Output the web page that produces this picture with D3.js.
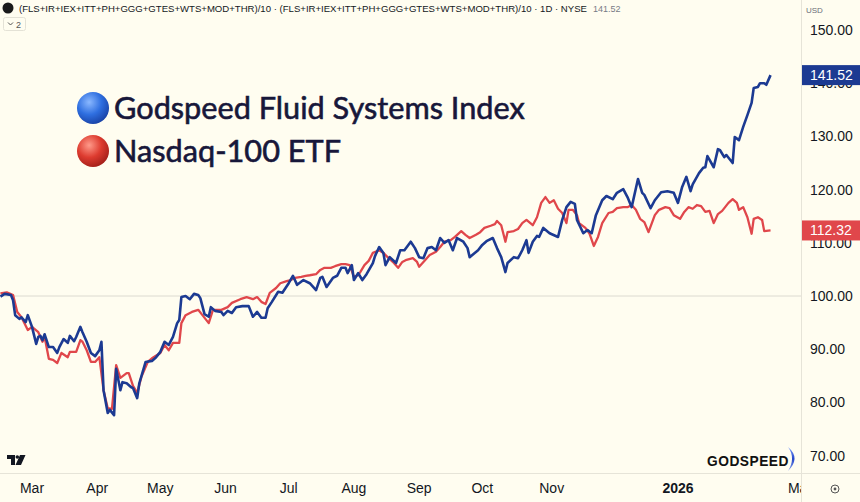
<!DOCTYPE html>
<html>
<head>
<meta charset="utf-8">
<script src="https://cdn.jsdelivr.net/npm/d3@7"></script>
<style>
body { margin: 0; background: #fffdf0; }
svg { display: block; }
</style>
</head>
<body>
<svg id="chart"></svg>
<script>
// Godspeed Fluid Systems Index (rebased to 100)
var fluidIndex = [
	["2025-02-14",99.9],["2025-02-16",100.4],["2025-02-19",100.2],["2025-02-20",99.2],["2025-02-21",96.4],["2025-02-23",95.7],
	["2025-02-24",96.0],["2025-02-26",95.1],["2025-02-27",96.4],["2025-03-01",94.2],["2025-03-03",91.0],["2025-03-04",92.3],
	["2025-03-05",92.5],["2025-03-06",91.7],["2025-03-07",92.8],["2025-03-09",90.4],["2025-03-11",90.4],["2025-03-13",89.3],
	["2025-03-14",90.4],["2025-03-16",91.9],["2025-03-18",91.2],["2025-03-19",92.5],["2025-03-21",91.5],["2025-03-22",92.3],
	["2025-03-24",94.2],["2025-03-25",93.2],["2025-03-27",91.4],["2025-03-29",89.3],["2025-03-31",88.7],["2025-04-02",89.8],
	["2025-04-03",91.4],["2025-04-04",82.3],["2025-04-06",78.0],["2025-04-07",78.6],["2025-04-09",77.6],["2025-04-10",86.3],
	["2025-04-12",82.3],["2025-04-13",83.8],["2025-04-15",83.6],["2025-04-17",82.9],["2025-04-18",82.7],["2025-04-20",80.8],
	["2025-04-21",83.6],["2025-04-24",87.6],["2025-04-27",87.8],["2025-04-29",88.5],["2025-05-01",89.5],["2025-05-03",91.4],
	["2025-05-05",90.8],["2025-05-07",92.3],["2025-05-09",94.9],["2025-05-10",95.5],["2025-05-11",99.8],["2025-05-13",100.0],
	["2025-05-15",99.4],["2025-05-17",100.4],["2025-05-19",100.2],["2025-05-20",99.6],["2025-05-22",96.6],["2025-05-24",96.1],
	["2025-05-25",97.9],["2025-05-27",97.2],["2025-05-30",97.0],["2025-05-31",96.4],["2025-06-02",97.2],["2025-06-04",96.8],
	["2025-06-06",97.9],["2025-06-09",98.1],["2025-06-12",98.1],["2025-06-14",96.1],["2025-06-16",97.0],["2025-06-18",95.9],
	["2025-06-20",95.9],["2025-06-21",97.7],["2025-06-23",98.9],["2025-06-26",100.8],["2025-06-28",100.6],["2025-07-01",102.4],
	["2025-07-03",103.8],["2025-07-05",102.1],["2025-07-08",103.0],["2025-07-11",102.4],["2025-07-14",101.1],["2025-07-16",103.4],
	["2025-07-17",103.6],["2025-07-19",101.7],["2025-07-22",103.4],["2025-07-24",103.8],["2025-07-26",105.3],["2025-07-28",105.3],
	["2025-07-29",104.3],["2025-07-31",105.8],["2025-08-01",103.0],["2025-08-03",104.3],["2025-08-05",103.0],["2025-08-07",104.1],
	["2025-08-10",106.2],["2025-08-11",107.5],["2025-08-13",109.2],["2025-08-15",108.1],["2025-08-16",105.8],["2025-08-18",107.3],
	["2025-08-21",106.2],["2025-08-23",108.6],["2025-08-25",108.6],["2025-08-28",110.2],["2025-08-30",109.0],["2025-09-01",107.3],
	["2025-09-03",107.1],["2025-09-05",109.0],["2025-09-07",109.2],["2025-09-09",108.6],["2025-09-11",110.9],["2025-09-13",110.0],
	["2025-09-15",110.5],["2025-09-17",108.6],["2025-09-19",110.9],["2025-09-22",110.2],["2025-09-24",109.0],["2025-09-25",107.3],
	["2025-09-29",108.6],["2025-10-01",109.6],["2025-10-03",110.3],["2025-10-06",110.9],["2025-10-08",109.0],["2025-10-10",107.3],
	["2025-10-12",104.5],["2025-10-13",106.2],["2025-10-16",107.3],["2025-10-18",107.1],["2025-10-20",108.6],["2025-10-22",110.5],
	["2025-10-23",108.1],["2025-10-25",110.2],["2025-10-27",111.3],["2025-10-28",111.1],["2025-10-30",112.8],["2025-11-02",111.8],
	["2025-11-06",111.1],["2025-11-08",114.3],["2025-11-10",116.7],["2025-11-12",117.7],["2025-11-14",117.3],["2025-11-15",114.3],
	["2025-11-18",111.8],["2025-11-20",112.4],["2025-11-22",111.8],["2025-11-24",115.2],["2025-11-27",118.0],["2025-11-29",118.8],
	["2025-12-02",118.2],["2025-12-04",119.4],["2025-12-07",120.1],["2025-12-09",118.6],["2025-12-11",116.7],["2025-12-14",122.0],
	["2025-12-16",119.4],["2025-12-17",119.0],["2025-12-20",116.5],["2025-12-22",118.0],["2025-12-25",119.5],["2025-12-28",119.7],
	["2025-12-31",119.4],["2026-01-02",117.5],["2026-01-04",120.5],["2026-01-06",122.4],["2026-01-08",119.7],["2026-01-09",121.0],
	["2026-01-12",123.1],["2026-01-14",124.1],["2026-01-15",124.2],["2026-01-16",126.3],["2026-01-19",124.2],["2026-01-21",127.6],
	["2026-01-22",127.4],["2026-01-24",126.1],["2026-01-25",126.5],["2026-01-28",125.0],["2026-01-29",129.9],["2026-01-31",129.3],
	["2026-02-02",131.8],["2026-02-04",134.0],["2026-02-06",136.3],["2026-02-07",139.1],["2026-02-09",139.3],["2026-02-10",140.0],
	["2026-02-12",140.0],["2026-02-13",139.7],["2026-02-15",141.52]
]

// Nasdaq-100 ETF (rebased to 100)
var nasdaqEtf = [
	["2025-02-14",100.5],["2025-02-17",100.7],["2025-02-20",100.2],["2025-02-22",97.0],["2025-02-24",96.0],["2025-02-27",93.6],
	["2025-03-01",94.2],["2025-03-04",93.2],["2025-03-06",91.4],["2025-03-07",92.3],["2025-03-09",88.2],["2025-03-11",88.0],
	["2025-03-13",87.4],["2025-03-15",89.3],["2025-03-18",88.5],["2025-03-19",89.5],["2025-03-22",89.5],["2025-03-24",91.7],
	["2025-03-25",91.4],["2025-03-27",89.8],["2025-03-29",87.6],["2025-03-31",87.6],["2025-04-02",88.5],["2025-04-04",82.3],
	["2025-04-06",78.9],["2025-04-08",78.8],["2025-04-10",87.0],["2025-04-12",84.6],["2025-04-15",85.5],["2025-04-16",85.5],
	["2025-04-18",83.1],["2025-04-20",81.8],["2025-04-22",84.8],["2025-04-25",87.6],["2025-04-27",88.3],["2025-05-01",89.3],
	["2025-05-03",90.8],["2025-05-05",89.8],["2025-05-07",91.2],["2025-05-10",91.2],["2025-05-11",94.9],["2025-05-13",96.4],
	["2025-05-16",97.0],["2025-05-19",97.4],["2025-05-21",96.4],["2025-05-24",94.9],["2025-05-26",97.4],["2025-05-30",97.4],
	["2025-06-02",97.9],["2025-06-04",98.7],["2025-06-08",99.4],["2025-06-11",99.8],["2025-06-14",99.4],["2025-06-16",99.8],
	["2025-06-18",98.9],["2025-06-20",98.5],["2025-06-22",100.6],["2025-06-25",101.5],["2025-06-27",102.4],["2025-06-30",102.8],
	["2025-07-02",103.0],["2025-07-04",103.4],["2025-07-07",103.6],["2025-07-09",103.8],["2025-07-11",103.9],["2025-07-14",104.1],
	["2025-07-16",104.9],["2025-07-18",105.3],["2025-07-21",105.3],["2025-07-23",105.6],["2025-07-26",106.0],["2025-07-28",106.0],
	["2025-07-30",105.8],["2025-08-01",103.6],["2025-08-03",103.9],["2025-08-04",104.5],["2025-08-06",105.8],["2025-08-08",106.6],
	["2025-08-10",108.1],["2025-08-13",108.6],["2025-08-15",108.1],["2025-08-17",107.3],["2025-08-20",106.2],["2025-08-22",105.3],
	["2025-08-24",106.4],["2025-08-26",106.8],["2025-08-29",107.1],["2025-08-31",106.4],["2025-09-01",105.5],["2025-09-04",106.8],
	["2025-09-06",107.7],["2025-09-09",108.3],["2025-09-11",109.2],["2025-09-13",110.2],["2025-09-16",110.5],["2025-09-18",111.1],
	["2025-09-21",112.2],["2025-09-23",111.5],["2025-09-25",110.9],["2025-09-28",111.5],["2025-09-30",112.0],["2025-10-02",112.8],
	["2025-10-05",113.2],["2025-10-07",113.5],["2025-10-08",114.1],["2025-10-10",113.3],["2025-10-12",110.2],["2025-10-13",112.0],
	["2025-10-16",112.2],["2025-10-18",112.6],["2025-10-20",113.7],["2025-10-22",114.3],["2025-10-25",113.3],["2025-10-27",114.8],
	["2025-10-29",117.5],["2025-10-31",118.6],["2025-11-02",117.5],["2025-11-04",118.0],["2025-11-06",116.4],["2025-11-08",115.6],
	["2025-11-10",113.7],["2025-11-11",116.2],["2025-11-13",116.2],["2025-11-15",115.2],["2025-11-16",113.7],["2025-11-19",112.8],
	["2025-11-21",111.7],["2025-11-23",109.4],["2025-11-25",111.1],["2025-11-27",113.7],["2025-11-30",115.6],["2025-12-02",115.8],
	["2025-12-04",116.5],["2025-12-07",116.7],["2025-12-09",116.7],["2025-12-11",117.1],["2025-12-13",116.2],["2025-12-15",114.5],
	["2025-12-17",113.9],["2025-12-19",112.0],["2025-12-22",115.2],["2025-12-24",116.2],["2025-12-27",116.7],["2025-12-29",116.5],
	["2025-12-31",115.2],["2026-01-03",114.5],["2026-01-05",115.8],["2026-01-07",116.7],["2026-01-09",116.4],["2026-01-11",117.1],
	["2026-01-13",116.9],["2026-01-15",115.8],["2026-01-17",116.0],["2026-01-19",113.7],["2026-01-21",115.4],["2026-01-23",116.0],
	["2026-01-26",117.5],["2026-01-28",118.2],["2026-01-30",117.5],["2026-01-31",116.2],["2026-02-02",116.7],["2026-02-04",114.8],
	["2026-02-06",111.7],["2026-02-07",114.5],["2026-02-09",114.8],["2026-02-11",114.3],["2026-02-12",112.2],["2026-02-15",112.32]
]

var monthTicks = ["2025-03-01","2025-04-01","2025-05-01","2025-06-01","2025-07-01","2025-08-01","2025-09-01","2025-10-01","2025-11-03","2026-01-02","2026-03-01"]
var monthLabels = ["Mar","Apr","May","Jun","Jul","Aug","Sep","Oct","Nov","2026","Mar"]
var priceTicks = [70, 80, 90, 100, 110, 120, 130, 140, 150]
var seriesNames = ["Godspeed Fluid Systems Index", "Nasdaq-100 ETF"]
var lastValues = [141.52, 112.32]
var headerText = "(FLS+IR+IEX+ITT+PH+GGG+GTES+WTS+MOD+THR)/10 · (FLS+IR+IEX+ITT+PH+GGG+GTES+WTS+MOD+THR)/10 · 1D · NYSE"

var W = 860, H = 502
var plotW = 801, axisY = 473
var blue = '#1c3a92', red = '#e0474b'

var svg = d3.select('#chart').attr('width', W).attr('height', H)
	.style('font-family', '"Liberation Sans", Arial, sans-serif')

svg.append('rect').attr('width', W).attr('height', H).attr('fill', '#fffdf0')

var parse = d3.utcParse('%Y-%m-%d')

var x = d3.scaleUtc()
	.domain([parse('2025-03-01'), parse('2026-03-01')])
	.range([32, 800])

var y = d3.scaleLinear()
	.domain([70, 150])
	.range([455.6, 30])

var defs = svg.append('defs')
defs.append('clipPath').attr('id', 'clip')
	.append('rect').attr('x', 0).attr('y', 0).attr('width', plotW).attr('height', axisY)

function ball(id, c0, c1, c2) {
	var g = defs.append('radialGradient').attr('id', id)
		.attr('cx', '38%').attr('cy', '32%').attr('r', '70%')
	g.append('stop').attr('offset', '0%').attr('stop-color', c0)
	g.append('stop').attr('offset', '55%').attr('stop-color', c1)
	g.append('stop').attr('offset', '100%').attr('stop-color', c2)
}
ball('ballBlue', '#8ab8ff', '#2f6fe0', '#1a44a8')
ball('ballRed', '#ff9a8a', '#dd3b2f', '#a5201a')

var crescent = defs.append('linearGradient').attr('id', 'cres').attr('x1', 0).attr('y1', 0).attr('x2', 0).attr('y2', 1)
crescent.append('stop').attr('offset', '0%').attr('stop-color', '#7fa0ff')
crescent.append('stop').attr('offset', '50%').attr('stop-color', '#2446c8')
crescent.append('stop').attr('offset', '100%').attr('stop-color', '#8aa4f0')

// 100 baseline
svg.append('line')
	.attr('x1', 0).attr('x2', plotW)
	.attr('y1', y(100)).attr('y2', y(100))
	.attr('stroke', '#dcdad0').attr('stroke-width', 1)

// lines
var line = d3.line()
	.x(d => x(parse(d[0])))
	.y(d => y(d[1]))

var plot = svg.append('g').attr('clip-path', 'url(#clip)')
plot.append('path').datum(nasdaqEtf)
	.attr('d', line).attr('fill', 'none')
	.attr('stroke', red).attr('stroke-width', 2.3).attr('stroke-linejoin', 'round')
plot.append('path').datum(fluidIndex)
	.attr('d', line).attr('fill', 'none')
	.attr('stroke', blue).attr('stroke-width', 2.6).attr('stroke-linejoin', 'round')

// axis borders
svg.append('line').attr('x1', 0).attr('x2', W).attr('y1', axisY + 0.5).attr('y2', axisY + 0.5)
	.attr('stroke', '#e6e4d8')
svg.append('line').attr('x1', plotW + 0.5).attr('x2', plotW + 0.5).attr('y1', 0).attr('y2', H)
	.attr('stroke', '#e6e4d8')

// price axis
svg.append('g').selectAll('text')
	.data(priceTicks)
	.enter()
	.append('text')
		.attr('x', 810)
		.attr('y', d => y(d) + 5)
		.attr('font-size', 14)
		.attr('fill', '#131722')
		.text(d => d.toFixed(2))

svg.append('text').attr('x', 806).attr('y', 13)
	.attr('font-size', 8).attr('fill', '#6a6d78').text('USD')

// last value tags
var tagColors = [blue, red]
lastValues.forEach((v, i) => {
	svg.append('rect')
		.attr('x', plotW + 1).attr('y', y(v) - 10)
		.attr('width', W - plotW).attr('height', 20)
		.attr('fill', tagColors[i])
	svg.append('text')
		.attr('x', 810).attr('y', y(v) + 5)
		.attr('font-size', 14).attr('fill', '#fff')
		.text(v.toFixed(2))
})

// time axis labels
var tg = svg.append('g').attr('clip-path', 'url(#clip2)')
defs.append('clipPath').attr('id', 'clip2')
	.append('rect').attr('x', 0).attr('y', axisY).attr('width', plotW).attr('height', H - axisY)
tg.selectAll('text')
	.data(monthTicks)
	.enter()
	.append('text')
		.attr('x', d => x(parse(d)))
		.attr('y', 493)
		.attr('text-anchor', 'middle')
		.attr('font-size', 14)
		.attr('font-weight', (d, i) => monthLabels[i] == '2026' ? 'bold' : 'normal')
		.attr('fill', '#131722')
		.text((d, i) => monthLabels[i])

// settings icon bottom-right
svg.append('circle').attr('cx', 835).attr('cy', 489).attr('r', 4)
	.attr('fill', 'none').attr('stroke', '#555').attr('stroke-width', 1)
svg.append('circle').attr('cx', 835).attr('cy', 489).attr('r', 1.4).attr('fill', '#555')

function fitWidth(sel, w) {
	var fs = parseFloat(sel.attr('font-size'))
	var len = sel.node().getComputedTextLength()
	sel.attr('font-size', fs * w / len)
	return fs * w / len
}

// header
svg.append('circle').attr('cx', 8).attr('cy', 8).attr('r', 5.5).attr('fill', '#1a1a1a')
var head = svg.append('text').attr('x', 19).attr('y', 12)
	.attr('font-size', 11).attr('fill', '#131722')
	.text(headerText)
fitWidth(head, 569)
svg.append('text').attr('x', 593).attr('y', 12)
	.attr('font-size', 9).attr('fill', '#787b86').text(lastValues[0].toFixed(2))

svg.append('rect').attr('x', 3.5).attr('y', 17.5).attr('width', 22).attr('height', 13).attr('rx', 2)
	.attr('fill', 'none').attr('stroke', '#e4e2d6')
svg.append('path').attr('d', 'M8 22.5 l2.5 2.5 l2.5 -2.5').attr('fill', 'none').attr('stroke', '#555').attr('stroke-width', 1)
svg.append('text').attr('x', 16).attr('y', 27.5).attr('font-size', 9).attr('fill', '#555').text('2')

// legend
var legendY = [108, 151]
var balls = ['url(#ballBlue)', 'url(#ballRed)']
var legFs = 36
seriesNames.forEach((name, i) => {
	svg.append('circle').attr('cx', 93).attr('cy', legendY[i]).attr('r', 16)
		.attr('fill', balls[i])
	var t = svg.append('text')
		.attr('x', 114).attr('y', legendY[i] + 11)
		.attr('font-family', 'Lato, "Noto Sans", sans-serif')
		.attr('font-size', legFs)
		.attr('fill', '#17173a')
		.attr('stroke', '#17173a').attr('stroke-width', 0.6)
		.text(name)
	if (i == 0) legFs = fitWidth(t, 411)
	else t.attr('font-size', legFs)
})

// GODSPEED logo
var gs = svg.append('text').attr('x', 707).attr('y', 466)
	.attr('font-size', 18).attr('font-weight', 'bold')
	.attr('fill', '#111').attr('letter-spacing', 0.5)
	.text('GODSPEED')
fitWidth(gs, 81)
svg.append('path')
	.attr('d', 'M788 447 Q801 458 788 471 Q796 458 788 447 Z')
	.attr('fill', 'url(#cres)')

// TradingView mark
svg.append('path').attr('d', 'M7 455 h8 v10 h-4 v-6 h-4 z M20 455 h5.5 l-4.5 10 h-5.5 z').attr('fill', '#131722')
svg.append('circle').attr('cx', 17.3).attr('cy', 457).attr('r', 1.8).attr('fill', '#131722')
</script>
</body>
</html>
